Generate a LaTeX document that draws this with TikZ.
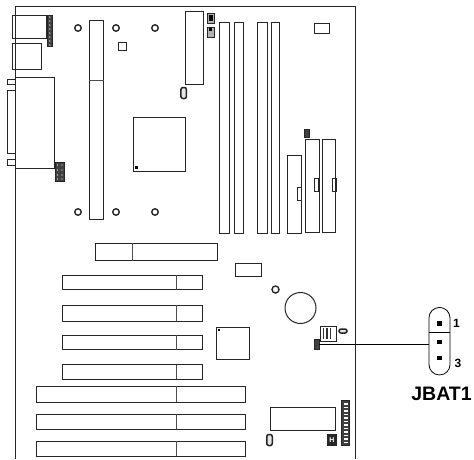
\documentclass[tikz,border=0pt]{standalone}
\usepackage{fontspec}
\setmainfont{Liberation Sans}
\usepackage{xcolor}
\usetikzlibrary{shapes,shapes.geometric,calc,positioning}

\begin{document}
\begin{tikzpicture}[x=1pt,y=-1pt,line width=1pt]
	\tikzstyle{part} = [draw=black!85,rectangle,inner sep=0pt,outer sep=0pt,line width=1pt]
	\tikzstyle{hole} = [draw=black!85,circle,inner sep=0pt,outer sep=0pt,minimum size=6.5pt,line width=1.4pt]
	\tikzstyle{osc} = [draw=black!85,rectangle,rounded corners=2pt,inner sep=0pt,outer sep=0pt,line width=1.5pt,fill=black!10]
	\tikzstyle{header} = [draw=black!85,fill=black!75,rectangle,inner sep=0pt,outer sep=0pt]
	\tikzstyle{pin} = [fill=black,rectangle,inner sep=0pt,outer sep=0pt,minimum size=4.5pt]
	\useasboundingbox (0,0) rectangle (474,459);

	% board outline
	\coordinate (BL) at (15.5,459);
	\coordinate (BR) at (355,459);
	\draw[black!85] (BL) -- (15.5,6) -- (355,6) -- (BR);

	% back panel
	\node[part,minimum width=33.5,minimum height=23] (PS2) at (29.7,26.5) {};
	\node[part,minimum width=28.5,minimum height=26.5] (USB) at (27.2,56.7) {};
	\node[part,minimum width=8,minimum height=5.5] (F1) at (11.5,82.2) {};
	\node[part,minimum width=8,minimum height=63] (F2) at (11.5,121.5) {};
	\node[part,minimum width=8,minimum height=5.5] (F3) at (11.5,162.5) {};
	\node[part,minimum width=39,minimum height=91] (LPT) at (35,122.5) {};
	\node[header,minimum width=4.5,minimum height=31] (H1) at (49.8,30.5) {};
	\node[header,minimum width=9,minimum height=19] (H2) at (59.8,171.5) {};
	\foreach \yy in {17,21,25,29,33,37,41,45}
		\fill[white] (49.8,\yy) circle (0.7);
	\foreach \yy in {165,170,175,179}
		\foreach \xx in {57.5,62}
			\fill[white] (\xx,\yy) circle (0.6);

	% cpu slot and mounting holes
	\node[part,minimum width=14.5,minimum height=198.5] (CPU) at (96.7,120.2) {};
	\draw[black!70] (CPU.west |- 0,80.5) -- (CPU.east |- 0,80.5);
	\foreach \xx in {78,116,155} {
		\node[hole] (HA\xx) at (\xx,28) {};
		\node[hole] (HB\xx) at (\xx,212) {};
	}
	\node[part,minimum size=8] (C1) at (122.5,46) {};
	\node[part,minimum width=52,minimum height=53.5] (CHIP) at (159,144.7) {};
	\node[pin,minimum size=2.5pt] (D1) at (136.5,167.5) {};
	\node[part,minimum width=18,minimum height=73] (IDE) at (194,48) {};
	\node[osc,minimum width=5.5,minimum height=11] (X1) at (183.7,93) {};

	% jumpers and memory
	\node[header,fill=black!30,minimum width=7,minimum height=10] (J1) at (211,18) {};
	\node[pin,minimum width=4,minimum height=6] at (211,18) {};
	\node[header,fill=black!30,minimum width=7,minimum height=10] (J2) at (211,32) {};
	\node[pin,minimum width=3,minimum height=3] at (210.5,29.5) {};
	\foreach \n/\xx/\ww in {1/224.5/10,2/238.5/9,3/262/10,4/275.7/8.5}
		\node[part,minimum width=\ww,minimum height=211] (M\n) at (\xx,127.5) {};
	\node[part,minimum width=15,minimum height=10.5] (BOX) at (322,28.7) {};

	% drive connectors
	\node[part,minimum width=14,minimum height=78] (D2) at (294.5,194) {};
	\node[part,minimum width=14,minimum height=93.5] (D3) at (312,186.2) {};
	\node[part,minimum width=13.5,minimum height=93.5] (D4) at (329.2,186.2) {};
	\node[part,minimum width=4,minimum height=13] (N2) at (299,193.5) {};
	\node[part,minimum width=4,minimum height=13] (N3) at (316.5,185.3) {};
	\node[part,minimum width=4,minimum height=13] (N4) at (334,185.3) {};
	\node[header,minimum width=4.5,minimum height=8] (J3) at (307.2,133.5) {};

	% expansion slots
	\node[part,minimum width=121.5,minimum height=17.5] (AGP) at (156.7,252.2) {};
	\draw[black!70] (132,0 |- AGP.north) -- (132,0 |- AGP.south);
	\foreach \n/\yy/\hh in {1/282.7/14.5,2/313/16,3/342.7/14.5,4/372.2/14.5} {
		\node[part,minimum width=140.5,minimum height=\hh] (P\n) at (132.7,\yy) {};
		\draw[black!70] (176,0 |- P\n.north) -- (176,0 |- P\n.south);
	}
	\foreach \n/\yy/\hh in {1/394/16,2/421.5/15,3/448.5/15} {
		\node[part,minimum width=208.5,minimum height=\hh] (S\n) at (141.2,\yy) {};
		\draw[black!70] (176,0 |- S\n.north) -- (176,0 |- S\n.south);
	}

	% lower right of the board
	\node[part,minimum width=25.5,minimum height=13.5] (RT) at (248.7,270.2) {};
	\node[hole,minimum size=7pt] (HC) at (275.5,289.5) {};
	\node[draw=black!85,circle,inner sep=0pt,outer sep=0pt,minimum size=31pt] (BAT) at (300.5,308) {};
	\node[part,minimum width=32.5,minimum height=32] (SIO) at (233.2,343.5) {};
	\node[pin,minimum size=2.5pt] (D5) at (219,330) {};
	\node[part,minimum width=16,minimum height=15] (JP) at (328,333.5) {};
	\foreach \xx in {323.5,327,330.5}
		\fill[black!80] (\xx-0.9,328) rectangle (\xx+0.9,339);
	\node[osc,minimum width=8,minimum height=4] (X2) at (343,331) {};
	\node[header,minimum width=5,minimum height=10] (JL) at (316.5,344) {};
	\node[part,minimum width=65.5,minimum height=22.5] (RAM) at (303.2,419) {};
	\node[osc,minimum width=5.5,minimum height=11] (X3) at (269.5,440) {};
	\node[header,fill=black!85,minimum width=9,minimum height=11] (JH) at (332,440) {};
	\node[font=\fontsize{7}{7}\selectfont\bfseries,text=white,inner sep=0pt] at (332,440) {H};
	\node[header,minimum width=8,minimum height=45] (FP) at (345.5,422.5) {};
	\foreach \yy in {403,406.5,...,442}
		\fill[white] (344,\yy) rectangle (347.5,\yy+1.6);

	% jumper detail
	\node[draw=black,rectangle,rounded corners=10.4pt,inner sep=0pt,outer sep=0pt,minimum width=21,minimum height=67.5,line width=0.8pt] (JB) at (439.5,341.2) {};
	\draw[black,line width=0.8pt] (JB.west |- 0,332.3) -- (JB.east |- 0,332.3);
	\foreach \n/\yy in {1/323.5,2/342,3/358}
		\node[pin] (PIN\n) at (439.5,\yy) {};
	\draw[black,line width=0.7pt] (JL.east) -- (JL.east -| JB.west);
	\node[font=\fontsize{12}{12}\selectfont\bfseries,inner sep=0pt] (L1) at (456.5,323.5) {1};
	\node[font=\fontsize{12}{12}\selectfont\bfseries,inner sep=0pt] (L3) at (458,363) {3};
	\node[font=\fontsize{19.5}{19.5}\selectfont\bfseries,inner sep=0pt] (TITLE) at (441.5,393.5) {JBAT1};
\end{tikzpicture}
\end{document}
